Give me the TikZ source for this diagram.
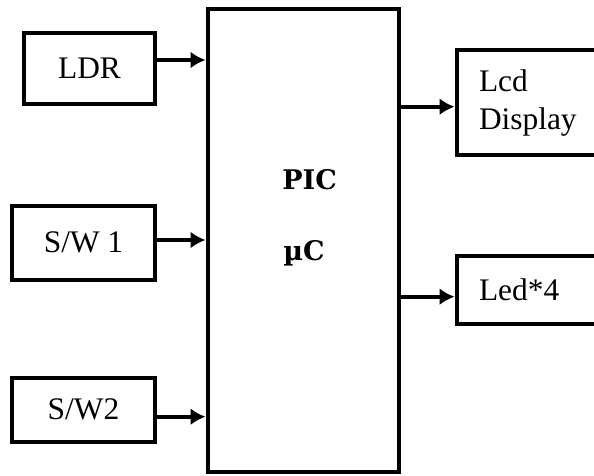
\documentclass[tikz,border=0pt]{standalone}
\usepackage{fontspec}
\setmainfont{Liberation Serif}
\newfontfamily\picfont{DejaVu Serif}
\usetikzlibrary{arrows.meta}

\tikzset{blk/.style={draw,line width=2pt,inner sep=0pt},
  piclab/.style={inner sep=0pt,anchor=base west,font=\picfont\bfseries\fontsize{13.5}{15}\selectfont}}

\begin{document}
\begin{tikzpicture}[x=0.5pt,y=-0.5pt,font=\fontsize{15.7}{19}\selectfont,>={Latex[length=7.5pt,width=8.5pt]}]
\useasboundingbox (0,0) rectangle (594,476);
\node[blk,minimum width=95.75pt,minimum height=231.25pt] (pic) at (303.25,240.75) {};
\node[piclab] (pictxt) at (282,189) {PIC};
\node[piclab] (mutxt) at (283,260) {µC};
\foreach \nm/\cx/\cy/\bw/\bh/\ay/\txt in {ldr/89.5/68.75/65.5/35.75/60/LDR, swa/83.5/242.5/71.5/37/240/{S/W 1}, swb/83.5/409.75/71.5/31.75/416.7/{S/W2}}{
  \node[blk,minimum width=\bw pt,minimum height=\bh pt] (\nm) at (\cx,\cy) {\txt};
  \draw[->,line width=2pt] (\nm.east |- 0,\ay) -- (pic.west |- 0,\ay);}
\foreach \nm/\cy/\bh/\ay/\txt in {lcd/102.5/52/106.7/{Lcd\\Display}, led/289.5/34/296.7/{Led*4}}{
  \node[blk,anchor=west,text width=48pt,inner xsep=11.25pt,align=left,minimum height=\bh pt] (\nm) at (454.5,\cy) {\txt};
  \draw[->,line width=2pt] (pic.east |- 0,\ay) -- (\nm.west |- 0,\ay);}
\end{tikzpicture}
\end{document}
